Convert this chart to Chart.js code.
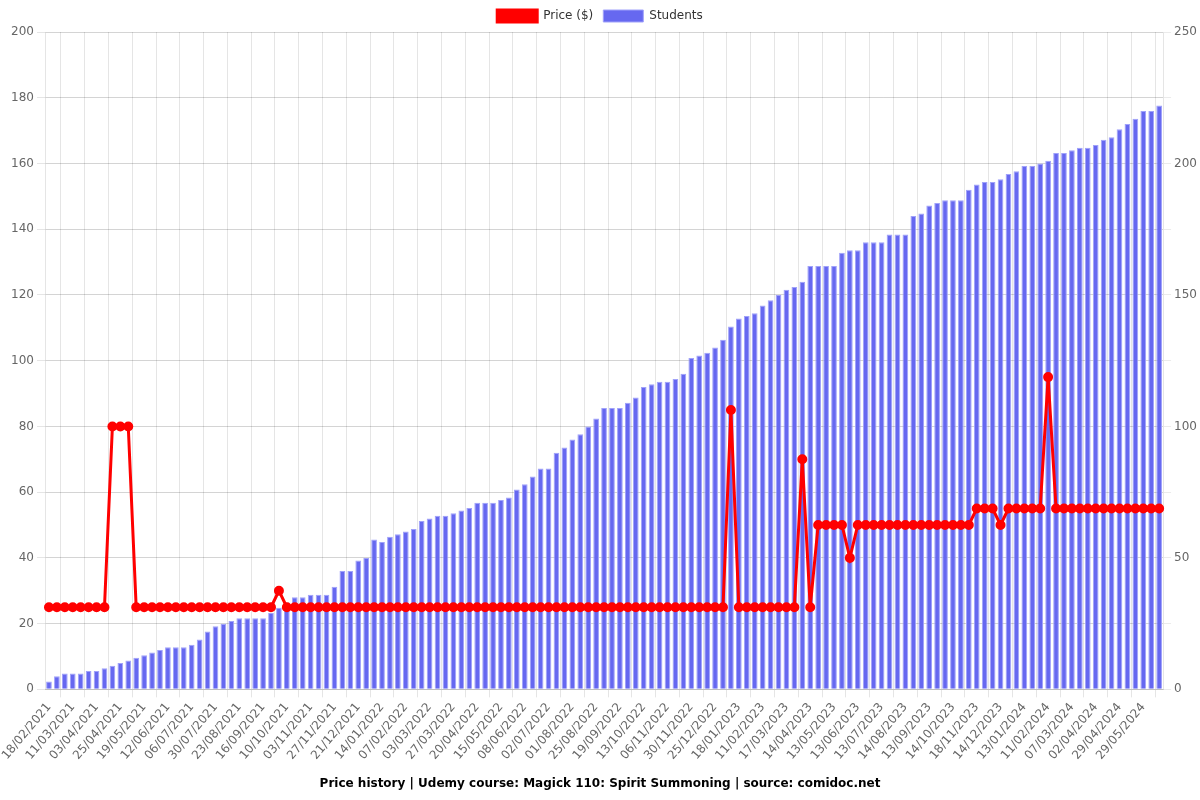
<!DOCTYPE html>
<html>
<head>
<meta charset="utf-8">
<script src="https://cdn.jsdelivr.net/npm/chart.js@4/dist/chart.umd.min.js"></script>
<style>
html,body{margin:0;padding:0;background:#fff;}
#wrap{width:1200px;height:800px;position:relative;}
</style>
</head>
<body>
<div id="wrap"><canvas id="c"></canvas></div>
<script>
const dates = [
"18/02/2021","25/02/2021","04/03/2021","11/03/2021","18/03/2021","26/03/2021","03/04/2021","10/04/2021","18/04/2021",
"25/04/2021","03/05/2021","11/05/2021","19/05/2021","27/05/2021","04/06/2021","12/06/2021","20/06/2021","28/06/2021",
"06/07/2021","14/07/2021","22/07/2021","30/07/2021","07/08/2021","15/08/2021","23/08/2021","31/08/2021","08/09/2021",
"16/09/2021","24/09/2021","02/10/2021","10/10/2021","18/10/2021","26/10/2021","03/11/2021","11/11/2021","19/11/2021",
"27/11/2021","05/12/2021","13/12/2021","21/12/2021","29/12/2021","06/01/2022","14/01/2022","22/01/2022","30/01/2022",
"07/02/2022","15/02/2022","23/02/2022","03/03/2022","11/03/2022","19/03/2022","27/03/2022","04/04/2022","12/04/2022",
"20/04/2022","28/04/2022","07/05/2022","15/05/2022","23/05/2022","31/05/2022","08/06/2022","16/06/2022","24/06/2022",
"02/07/2022","12/07/2022","22/07/2022","01/08/2022","09/08/2022","17/08/2022","25/08/2022","02/09/2022","10/09/2022",
"19/09/2022","27/09/2022","05/10/2022","13/10/2022","21/10/2022","29/10/2022","06/11/2022","14/11/2022","22/11/2022",
"30/11/2022","08/12/2022","16/12/2022","25/12/2022","02/01/2023","10/01/2023","18/01/2023","26/01/2023","03/02/2023",
"11/02/2023","22/02/2023","06/03/2023","17/03/2023","26/03/2023","04/04/2023","14/04/2023","24/04/2023","03/05/2023",
"13/05/2023","23/05/2023","02/06/2023","13/06/2023","23/06/2023","03/07/2023","13/07/2023","24/07/2023","03/08/2023",
"14/08/2023","24/08/2023","03/09/2023","13/09/2023","23/09/2023","03/10/2023","14/10/2023","26/10/2023","07/11/2023",
"18/11/2023","26/11/2023","05/12/2023","14/12/2023","24/12/2023","03/01/2024","13/01/2024","23/01/2024","02/02/2024",
"11/02/2024","19/02/2024","28/02/2024","07/03/2024","16/03/2024","24/03/2024","02/04/2024","11/04/2024","20/04/2024",
"29/04/2024","09/05/2024","19/05/2024","29/05/2024","06/06/2024","14/06/2024"
];

const price = [
25,25,25,25,25,25,25,25,80,80,80,
25,25,25,25,25,25,25,25,25,25,25,25,25,25,25,25,25,25,
30,
25,25,25,25,25,25,25,25,25,25,25,25,25,25,25,25,25,25,25,25,25,25,25,25,25,25,25,25,
25,25,25,25,25,25,25,25,25,25,25,25,25,25,25,25,25,25,25,25,25,25,25,25,25,25,25,25,
85,
25,25,25,25,25,25,25,25,
70,25,50,50,50,50,40,
50,50,50,50,50,50,50,50,50,50,50,50,50,50,50,
55,55,55,50,55,55,55,55,55,95,
55,55,55,55,55,55,55,55,55,55,55,55,55,55
];

const students = [
3,5,6,6,6,7,7,8,9,10,11,12,13,14,15,16,16,16,17,19,22,24,25,26,27,27,27,27,29,31,33,35,
35,36,36,36,39,45,45,49,50,57,56,58,59,60,61,64,65,66,66,67,68,69,71,71,71,72,73,76,78,81,84,84,90,92,95,97,100,103,
107,107,107,109,111,115,116,117,117,118,120,126,127,128,130,133,138,141,142,143,146,148,150,152,153,155,161,161,161,161,166,167,167,
170,170,170,173,173,173,180,181,184,185,186,186,186,190,192,193,193,194,196,197,199,199,200,201,204,204,205,206,206,207,209,210,213,215,217,220,220,222
];

const titleText = "Price history | Udemy course: Magick 110: Spirit Summoning | source: comidoc.net";

Chart.defaults.font.family = "'DejaVu Sans', sans-serif";
Chart.defaults.font.size = 12;
Chart.defaults.color = '#666';

new Chart(document.getElementById('c'), {
  data: {
    labels: dates,
    datasets: [
      {
        type: 'line',
        label: 'Price ($)',
        data: price,
        yAxisID: 'y',
        borderColor: 'rgb(255,0,0)',
        backgroundColor: 'rgb(255,0,0)',
        borderWidth: 3,
        pointRadius: 3.5,
        pointBackgroundColor: 'rgb(255,0,0)',
        pointBorderColor: 'rgb(255,0,0)',
        tension: 0
      },
      {
        type: 'bar',
        label: 'Students',
        data: students,
        yAxisID: 'y1',
        backgroundColor: 'rgb(102,104,240)',
        borderColor: 'rgba(160,162,250,1)',
        borderWidth: 1
      }
    ]
  },
  options: {
    responsive: true,
    maintainAspectRatio: false,
    animation: false,
    plugins: {
      legend: {
        position: 'top',
        labels: { color: '#333', boxWidth: 40, font: { size: 12 } }
      },
      title: {
        display: true,
        text: titleText,
        position: 'bottom',
        color: '#000',
        font: { size: 12, weight: 'bold' },
        padding: { top: 11, bottom: 9 }
      }
    },
    scales: {
      x: {
        ticks: { maxRotation: 50, minRotation: 50, autoSkip: true, color: '#666' },
        grid: { color: 'rgba(0,0,0,0.1)' }
      },
      y: {
        position: 'left',
        min: 0, max: 200,
        ticks: { stepSize: 20, color: '#666' },
        grid: { color: 'rgba(0,0,0,0.1)' },
        afterFit: (s) => { s.width = 45; }
      },
      y1: {
        position: 'right',
        min: 0, max: 250,
        ticks: { stepSize: 25, color: '#666', callback: v => (v % 50 === 0 ? v : '') },
        grid: { color: 'rgba(0,0,0,0.08)' }
      }
    }
  }
});
</script>
</body>
</html>
